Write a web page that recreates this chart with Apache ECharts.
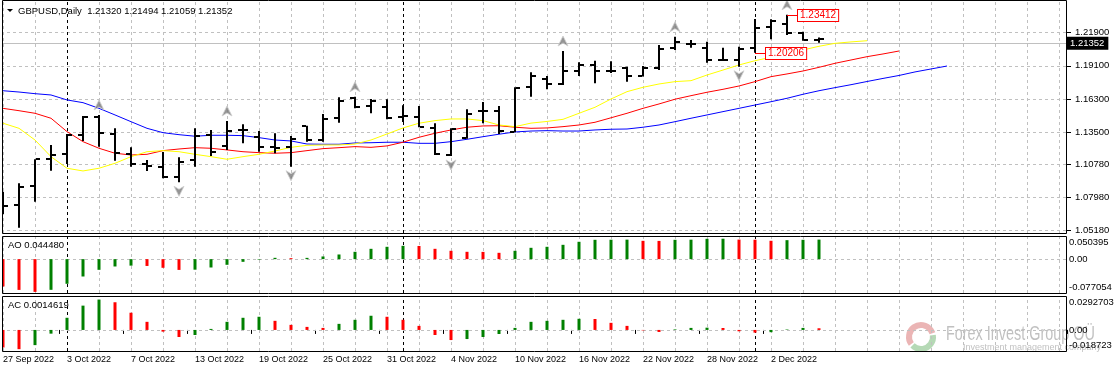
<!DOCTYPE html>
<html><head><meta charset="utf-8">
<script src="https://cdn.jsdelivr.net/npm/echarts@6/dist/echarts.min.js"></script>
<style>html,body{margin:0;padding:0;background:#fff}#c{width:1114px;height:372px}</style>
</head><body><div id="c"></div>
<script>
// ---------- data ----------
const dates = ['27 Sep 2022','28 Sep 2022','29 Sep 2022','30 Sep 2022','3 Oct 2022','4 Oct 2022','5 Oct 2022','6 Oct 2022','7 Oct 2022','10 Oct 2022','11 Oct 2022','12 Oct 2022','13 Oct 2022','14 Oct 2022','17 Oct 2022','18 Oct 2022','19 Oct 2022','20 Oct 2022','21 Oct 2022','24 Oct 2022','25 Oct 2022','26 Oct 2022','27 Oct 2022','28 Oct 2022','31 Oct 2022','1 Nov 2022','2 Nov 2022','3 Nov 2022','4 Nov 2022','7 Nov 2022','8 Nov 2022','9 Nov 2022','10 Nov 2022','11 Nov 2022','14 Nov 2022','15 Nov 2022','16 Nov 2022','17 Nov 2022','18 Nov 2022','21 Nov 2022','22 Nov 2022','23 Nov 2022','24 Nov 2022','25 Nov 2022','28 Nov 2022','29 Nov 2022','30 Nov 2022','1 Dec 2022','2 Dec 2022','5 Dec 2022','6 Dec 2022','7 Dec 2022'];
const opens  = [1.0686,1.0732,1.0895,1.1124,1.1164,1.1327,1.1479,1.1333,1.1164,1.1079,1.1056,1.0972,1.1113,1.1322,1.1234,1.1367,1.1305,1.1219,1.1220,1.1400,1.1282,1.1471,1.1640,1.1567,1.1564,1.1478,1.1479,1.1386,1.1155,1.1302,1.1525,1.1527,1.1352,1.1728,1.1796,1.1756,1.1863,1.1917,1.1867,1.1889,1.1824,1.1889,1.2058,1.2096,1.2063,1.1955,1.1955,1.2063,1.2241,1.2264,1.2190,1.21320];
const highs  = [1.0845,1.0916,1.1120,1.1240,1.1333,1.1485,1.1494,1.1381,1.1220,1.1113,1.1181,1.1136,1.1381,1.1367,1.1443,1.1415,1.1358,1.1339,1.1316,1.1403,1.1502,1.1643,1.1648,1.1629,1.1626,1.1576,1.1570,1.1423,1.1381,1.1542,1.1604,1.1570,1.1728,1.1855,1.1824,1.2035,1.1940,1.1953,1.1948,1.1902,1.1908,1.2086,1.2156,1.2128,1.2114,1.2063,1.2072,1.2306,1.2303,1.23412,1.2199,1.21494];
const lows   = [1.0656,1.0540,1.0760,1.1022,1.1079,1.1274,1.1225,1.1107,1.1056,1.1020,1.0958,1.0924,1.1056,1.1147,1.1197,1.1254,1.1183,1.1170,1.1056,1.1268,1.1268,1.1428,1.1550,1.1508,1.1457,1.1434,1.1390,1.1155,1.1147,1.1293,1.1423,1.1333,1.1347,1.1648,1.1711,1.1748,1.1824,1.1762,1.1849,1.1775,1.1820,1.1874,1.2044,1.2063,1.1936,1.1950,1.1902,1.20206,1.2134,1.2171,1.2122,1.21059];
const closes = [1.0726,1.0887,1.1118,1.1155,1.1324,1.1474,1.1339,1.1170,1.1080,1.1062,1.0966,1.1098,1.1316,1.1183,1.1361,1.1363,1.1220,1.1215,1.1293,1.1282,1.1462,1.1612,1.1561,1.1610,1.1471,1.1481,1.1395,1.1164,1.1373,1.1502,1.1529,1.1361,1.1720,1.1824,1.1756,1.1866,1.1917,1.1866,1.1869,1.1824,1.1894,1.2050,1.2109,1.2093,1.1959,1.1957,1.2052,1.2232,1.2289,1.2185,1.2132,1.21352];
// Alligator lines (shifted forward past the last bar)
const lips  = [1.1424,1.1381,1.1282,1.1141,1.1043,1.1020,1.1043,1.1085,1.1141,1.1183,1.1192,1.1183,1.1161,1.1141,1.1119,1.1141,1.1161,1.1189,1.1220,1.1237,1.1240,1.1240,1.1248,1.1282,1.1333,1.1384,1.1424,1.1446,1.1460,1.1460,1.1446,1.1409,1.1395,1.1425,1.1439,1.1457,1.1508,1.1559,1.1629,1.1691,1.1728,1.1756,1.1776,1.1784,1.1832,1.1874,1.1917,1.1953,1.1982,1.2001,1.2044,1.2075,1.2100,1.2112,1.2122];
const teeth = [1.1550,1.1530,1.1508,1.1466,1.1353,1.1268,1.1212,1.1170,1.1155,1.1161,1.1192,1.1206,1.1217,1.1212,1.1198,1.1183,1.1175,1.1170,1.1175,1.1192,1.1209,1.1217,1.1226,1.1220,1.1232,1.1263,1.1305,1.1339,1.1367,1.1390,1.1401,1.1403,1.1390,1.1381,1.1384,1.1395,1.1409,1.1432,1.1470,1.1508,1.1550,1.1587,1.1627,1.1657,1.1686,1.1711,1.1739,1.1776,1.1818,1.1841,1.1866,1.1897,1.1931,1.1959,1.1987,1.2010,1.2035];
const jaw   = [1.1699,1.1688,1.1674,1.1663,1.1621,1.1598,1.1550,1.1494,1.1437,1.1381,1.1344,1.1327,1.1314,1.1322,1.1322,1.1319,1.1302,1.1282,1.1274,1.1248,1.1246,1.1246,1.1257,1.1259,1.1263,1.1263,1.1254,1.1254,1.1268,1.1288,1.1310,1.1331,1.1350,1.1358,1.1361,1.1358,1.1358,1.1367,1.1373,1.1375,1.1390,1.1409,1.1437,1.1466,1.1494,1.1522,1.1550,1.1578,1.1606,1.1635,1.1669,1.1699,1.1725,1.1750,1.1777,1.1803,1.1828,1.1858,1.1883,1.1908];
const ao = [-0.0622,-0.0700,-0.0745,-0.0698,-0.0561,-0.0395,-0.0243,-0.0167,-0.0148,-0.0155,-0.0197,-0.0245,-0.0240,-0.0190,-0.0129,-0.0061,-0.0012,0.0030,0.0022,0.0029,0.0061,0.0106,0.0167,0.0235,0.0281,0.0303,0.0300,0.0235,0.0190,0.0167,0.0165,0.0144,0.0190,0.0258,0.0281,0.0326,0.0395,0.0440,0.0442,0.0444,0.0417,0.0415,0.0440,0.0443,0.0463,0.0465,0.0445,0.0442,0.0418,0.0432,0.0440,0.044480];
const ac = [-0.0156,-0.0171,-0.0135,-0.0033,0.0108,0.0216,0.0270,0.0246,0.0153,0.0072,-0.0015,-0.0063,-0.0045,0.0009,0.0072,0.0108,0.0117,0.0081,0.0045,0.0027,0.0018,0.0054,0.0090,0.0126,0.0117,0.0090,0.0036,-0.0045,-0.0090,-0.0081,-0.0063,-0.0036,0.0018,0.0072,0.0081,0.0090,0.0099,0.0097,0.0063,0.0036,-0.0004,-0.0018,0.0005,0.0018,0.0020,0.0017,-0.0012,-0.0024,-0.0020,0.0004,0.0018,0.0014619];
const fractalUp = [6,14,22,35,42,49];
const fractalDown = [11,18,28,46];
const priceTicks = [1.0518,1.0798,1.1078,1.135,1.163,1.191,1.219];
const aoTicks = [-0.077054,0,0.050395];
const acTicks = [-0.018723,0,0.0292703];
const lastPrice = 1.21352;
const markedPrices = [[49,1.23412],[47,1.20206]];
const titleText = 'GBPUSD,Daily  1.21320 1.21494 1.21059 1.21352';
const aoTitle = 'AO 0.044480';
const acTitle = 'AC 0.0014619';

// ---------- layout helpers ----------
const SLOTS = 67;
const categories = dates.concat(Array.from({length: SLOTS - dates.length}, (_, k) => 'pad' + k));
const FONT = '"Liberation Sans",Arial,sans-serif';
const FS = 9.5;
const GREEN = '#008000', RED = '#ff0000';
const gridIdx = []; for (let i = 0; i < SLOTS; i += 2) gridIdx.push(i);
const sepIdx = [];
dates.forEach((d, i) => { if (i > 0 && d.split(' ')[1] !== dates[i-1].split(' ')[1]) sepIdx.push(i); });
const gridLine = {color:'#c0c0c0', type:[3,3], width:1};
const sepLine = {color:'#000', type:[3,3], width:1};
const vLines = gridIdx.map(i => ({xAxis:i, lineStyle:gridLine})).concat(sepIdx.map(i => ({xAxis:i, lineStyle:sepLine})));

const grids = [
  {left:-5, width:1072, top:1, height:232, outerBoundsMode:'none', containLabel:false},
  {left:-5, width:1072, top:237, height:56, outerBoundsMode:'none', containLabel:false},
  {left:-5, width:1072, top:297, height:54, outerBoundsMode:'none', containLabel:false}
];
function xAxisFor(g, bottom) {
  return {type:'category', gridIndex:g, data:categories, boundaryGap:true,
    axisLine:{show:false},
    axisTick:{show:bottom, length:4, lineStyle:{color:'#000'}, interval:(i)=> i % 4 === 0 && i < dates.length},
    axisLabel:{show:bottom, interval:(i)=> i % 4 === 0 && i < dates.length, align:'left', margin:4,
      fontSize:9, fontFamily:FONT, color:'#000'},
    splitLine:{show:false}};
}
function subLabel(min, max) {
  return {customValues: [min, 0, max], margin:2, fontSize:FS, fontFamily:FONT, color:'#000',
    formatter:(v)=>{ const s = v === 0 ? '0.00' : String(v);
      if (v === max) return '{t|' + s + '}'; if (v === min) return '{b|' + s + '}'; return s; },
    rich:{t:{padding:[10,0,0,0], fontSize:FS, fontFamily:FONT, color:'#000'},
          b:{padding:[0,0,12,0], fontSize:FS, fontFamily:FONT, color:'#000'}}};
}
const colorByChange = (arr) => (p) => (p.dataIndex > 0 && arr[p.dataIndex] > arr[p.dataIndex-1]) ? GREEN : RED;
const markBase = {silent:true, z:1, symbol:['none','none'], animation:false, label:{show:false}};

const ohlcData = dates.map((d, i) => [i, opens[i], highs[i], lows[i], closes[i]]);

const option = {
  animation:false,
  grid: grids,
  xAxis: [xAxisFor(0,false), xAxisFor(1,false), xAxisFor(2,true)],
  yAxis: [
    {type:'value', gridIndex:0, position:'right', min:1.04951, max:1.24582,
      axisLine:{show:false},
      axisTick:{show:true, length:4, customValues:priceTicks, lineStyle:{color:'#000'}},
      axisLabel:{customValues:priceTicks, formatter:(v)=>v.toFixed(5), margin:8, fontSize:FS, fontFamily:FONT, color:'#000'},
      splitLine:{show:true, lineStyle:gridLine}},
    {type:'value', gridIndex:1, position:'right', min:aoTicks[0], max:aoTicks[2],
      axisLine:{show:false}, axisTick:{show:false}, splitLine:{show:false},
      axisLabel: subLabel(aoTicks[0], aoTicks[2])},
    {type:'value', gridIndex:2, position:'right', min:acTicks[0], max:acTicks[2],
      axisLine:{show:false}, axisTick:{show:false}, splitLine:{show:false},
      axisLabel: subLabel(acTicks[0], acTicks[2])}
  ],
  series: [
    {type:'line', xAxisIndex:0, yAxisIndex:0, data:[], z:1, silent:true,
      markLine:Object.assign({}, markBase, {
        data: vLines.concat([{yAxis:lastPrice, lineStyle:{color:'#c0c0c0', type:'solid', width:1},
          label:{show:true, position:'end', distance:0, formatter:lastPrice.toFixed(5), color:'#fff',
            backgroundColor:'#000', padding:[2,4,1,3], fontSize:FS, fontFamily:FONT}}])})},
    {type:'line', xAxisIndex:1, yAxisIndex:1, data:[], z:1, silent:true,
      markLine:Object.assign({}, markBase, {data: vLines.concat([{yAxis:0, lineStyle:gridLine}])})},
    {type:'line', xAxisIndex:2, yAxisIndex:2, data:[], z:1, silent:true,
      markLine:Object.assign({}, markBase, {data: vLines.concat([{yAxis:0, lineStyle:gridLine}])})},
    {name:'jaw', type:'line', xAxisIndex:0, yAxisIndex:0, data:jaw, symbol:'none', z:3,
      lineStyle:{color:'#0000ff', width:1}},
    {name:'teeth', type:'line', xAxisIndex:0, yAxisIndex:0, data:teeth, symbol:'none', z:3,
      lineStyle:{color:'#ff0000', width:1}},
    {name:'lips', type:'line', xAxisIndex:0, yAxisIndex:0, data:lips, symbol:'none', z:3,
      lineStyle:{color:'#ffff00', width:1}},
    {name:'ohlc', type:'custom', xAxisIndex:0, yAxisIndex:0, data:ohlcData, z:5,
      encode:{x:0, y:[1,2,3,4]},
      renderItem:(params, api) => {
        const i = api.value(0);
        const o = api.coord([i, api.value(1)]);
        const h = api.coord([i, api.value(2)]);
        const l = api.coord([i, api.value(3)]);
        const c = api.coord([i, api.value(4)]);
        const x = Math.round(h[0]);
        return {type:'group', children:[
          {type:'rect', shape:{x:x-1, y:h[1], width:2, height:Math.max(1, l[1]-h[1])}, style:{fill:'#000'}},
          {type:'rect', shape:{x:x-5, y:Math.round(o[1])-1, width:4, height:2}, style:{fill:'#000'}},
          {type:'rect', shape:{x:x+1, y:Math.round(c[1])-1, width:4, height:2}, style:{fill:'#000'}}
        ]};
      }},
    {name:'fractalUp', type:'scatter', xAxisIndex:0, yAxisIndex:0, z:4,
      data: fractalUp.map(i => [i, highs[i]]),
      symbol:'path://M5,0 L10,10 L5,7 L0,10 Z', symbolSize:[10,10], symbolOffset:[0,-10],
      itemStyle:{color:'#7a7a7a', borderColor:'#d0d0d0', borderWidth:1}},
    {name:'fractalDown', type:'scatter', xAxisIndex:0, yAxisIndex:0, z:4,
      data: fractalDown.map(i => [i, lows[i]]),
      symbol:'path://M5,10 L10,0 L5,3 L0,0 Z', symbolSize:[10,10], symbolOffset:[0,9],
      itemStyle:{color:'#7a7a7a', borderColor:'#d0d0d0', borderWidth:1}},
    {name:'marks', type:'custom', xAxisIndex:0, yAxisIndex:0, data:markedPrices, z:6,
      renderItem:(params, api) => {
        const p = api.coord([api.value(0), api.value(1)]);
        const x = Math.round(p[0]), y = Math.round(p[1]) + 0.5;
        return {type:'group', children:[
          {type:'line', shape:{x1:x, y1:y, x2:x+11, y2:y}, style:{stroke:'#ff0000', lineWidth:1}},
          {type:'text', x:x+11, y:y, style:{text:api.value(1).toFixed(5), fill:'#ff0000',
            backgroundColor:'#fff', borderColor:'#ff0000', borderWidth:1, padding:[1,2,0,2],
            verticalAlign:'middle', align:'left', font:'10px ' + FONT}}
        ]};
      }},
    {name:'AO', type:'bar', xAxisIndex:1, yAxisIndex:1, data:ao, barWidth:3, z:3,
      itemStyle:{color: colorByChange(ao)}},
    {name:'AC', type:'bar', xAxisIndex:2, yAxisIndex:2, data:ac, barWidth:3, z:3,
      itemStyle:{color: colorByChange(ac)}}
  ],
  graphic: [
    {type:'rect', z:99, shape:{x:0, y:0, width:2, height:372}, style:{fill:'#fff'}},
    {type:'rect', z:100, shape:{x:2.5, y:0.5, width:1064, height:233}, style:{fill:'none', stroke:'#000', lineWidth:1}},
    {type:'rect', z:100, shape:{x:2.5, y:236.5, width:1064, height:57}, style:{fill:'none', stroke:'#000', lineWidth:1}},
    {type:'rect', z:100, shape:{x:2.5, y:296.5, width:1064, height:55}, style:{fill:'none', stroke:'#000', lineWidth:1}},
    {type:'polygon', z:100, shape:{points:[[7,9],[13,9],[10,12]]}, style:{fill:'#000'}},
    {type:'text', z:100, x:18, y:11, style:{text:titleText, fill:'#000', font:FS + 'px ' + FONT, verticalAlign:'middle'}},
    {type:'text', z:100, x:8, y:245, style:{text:aoTitle, fill:'#000', font:FS + 'px ' + FONT, verticalAlign:'middle'}},
    {type:'text', z:100, x:8, y:305, style:{text:acTitle, fill:'#000', font:FS + 'px ' + FONT, verticalAlign:'middle'}},
    {type:'group', z:90, children:[
      {type:'arc', shape:{cx:921, cy:337, r:12, startAngle:Math.PI*0.8, endAngle:Math.PI*1.9}, style:{stroke:'rgba(210,90,90,0.45)', lineWidth:6, fill:'none'}},
      {type:'arc', shape:{cx:921, cy:337, r:12, startAngle:-Math.PI*0.05, endAngle:Math.PI*0.75}, style:{stroke:'rgba(90,170,90,0.45)', lineWidth:6, fill:'none'}},
      {type:'text', x:946, y:334, scaleX:0.72, style:{text:'Forex Invest Group OÜ', fill:'rgba(140,140,140,0.55)', font:'20px ' + FONT, verticalAlign:'middle'}},
      {type:'text', x:963, y:348, style:{text:'Investment management company', fill:'rgba(140,140,140,0.55)', font:'9px ' + FONT, verticalAlign:'middle'}}
    ]}
  ]
};
const chart = echarts.init(document.getElementById('c'), null, {renderer:'canvas'});
chart.setOption(option);
</script>
</body></html>
